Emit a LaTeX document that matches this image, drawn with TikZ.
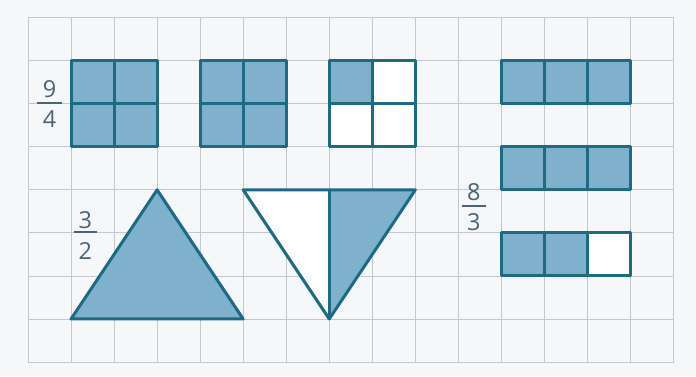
\documentclass[tikz,border=0pt]{standalone}
\usepackage{fontspec}
\setmainfont{Open Sans}
\usepackage{tikz}
\usetikzlibrary{positioning}
\usepackage{xcolor}
\definecolor{paper}{HTML}{F6F7F8}
\definecolor{gridc}{HTML}{C4C8CC}
\definecolor{part}{HTML}{7FB0CC}
\definecolor{edge}{HTML}{1D6A85}
\definecolor{digit}{HTML}{4A6474}

\begin{document}
\begin{tikzpicture}[every node/.style={font=\fontsize{15.5}{17}\selectfont,text=digit,inner sep=0pt},
    outline/.style={draw=edge,line width=2pt,line join=round},
    bar/.style={draw=digit,line width=1.1pt}]
    \useasboundingbox[fill=paper] (-0.65,-0.33) rectangle (15.52,8.41);

    % squared paper
    \draw[gridc,line width=0.5pt] (0,0) grid (15,8);

    % 9/4 -- two full squares and one quarter
    \node (n9) at (0.50,6.35) {9};
    \node (d4) at (0.50,5.64) {4};
    \draw[bar] (0.21,6.02) -- (0.79,6.02);
    \foreach \xa in {1,4} {
      \fill[part] (\xa,5) rectangle (\xa+2,7);
      \draw[outline] (\xa,5) grid (\xa+2,7);
      \draw[outline] (\xa,5) rectangle (\xa+2,7);
    }
    \fill[white] (7,5) rectangle (9,7);
    \fill[part] (7,6) rectangle (8,7);
    \draw[outline] (7,5) grid (9,7);
    \draw[outline] (7,5) rectangle (9,7);

    % 3/2 -- one whole triangle and a half
    \node (n3) at (1.33,3.30) {3};
    \node (d2) at (1.33,2.58) {2};
    \draw[bar] (1.07,3.02) -- (1.60,3.02);
    \fill[part] (1,1) -- (3,4) -- (5,1) -- cycle;
    \draw[outline] (1,1) -- (3,4) -- (5,1) -- cycle;
    \fill[white] (5,4) -- (7,4) -- (7,1) -- cycle;
    \fill[part] (7,4) -- (9,4) -- (7,1) -- cycle;
    \draw[outline] (5,4) -- (9,4) -- (7,1) -- cycle;
    \draw[outline] (7,4) -- (7,1);

    % 8/3 -- strips of three
    \node (n8) at (10.36,3.95) {8};
    \node (d3) at (10.36,3.26) {3};
    \draw[bar] (10.09,3.63) -- (10.63,3.63);
    \foreach \ya/\k in {6/3,4/3,2/2} {
      \fill[white] (11,\ya) rectangle (14,\ya+1);
      \fill[part] (11,\ya) rectangle (11+\k,\ya+1);
      \draw[outline] (11,\ya) grid (14,\ya+1);
      \draw[outline] (11,\ya) rectangle (14,\ya+1);
    }
\end{tikzpicture}
\end{document}
